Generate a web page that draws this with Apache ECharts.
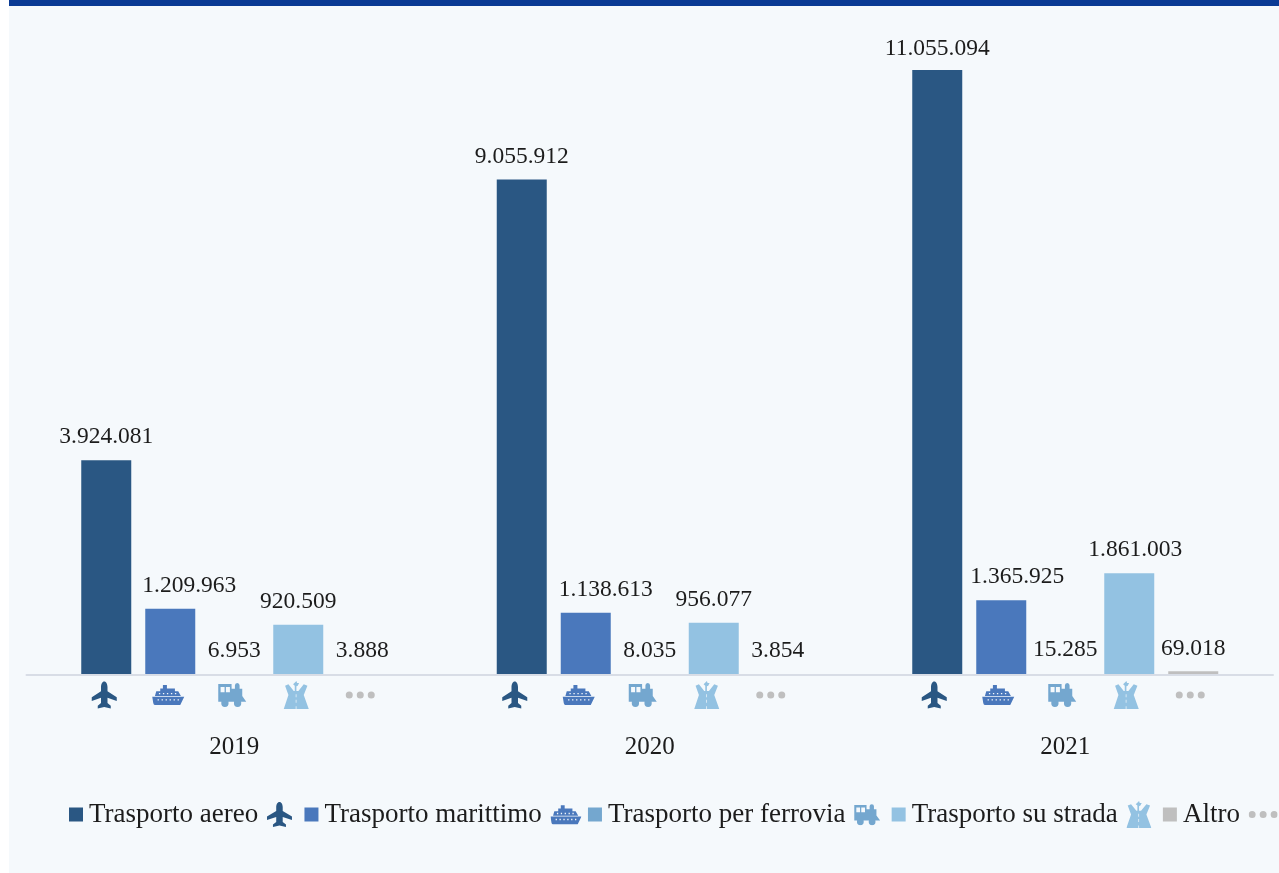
<!DOCTYPE html>
<html><head><meta charset="utf-8">
<style>
html,body{margin:0;padding:0;background:#fff;width:1279px;height:873px;overflow:hidden}
#panel{position:absolute;left:9px;top:0;width:1270px;height:873px;background:#f5f9fc}
#bar{position:absolute;left:9px;top:0;width:1270px;height:6px;background:#0a3a94}
#main{position:absolute;left:0;top:0;width:1279px;height:873px}
</style>
<script src="https://cdn.jsdelivr.net/npm/echarts@6/dist/echarts.min.js"></script>
</head><body>
<div id="panel"></div><div id="bar"></div><div id="main"></div>
<script>
const years = ['2019','2020','2021'];
const names = ['Trasporto aereo','Trasporto marittimo','Trasporto per ferrovia','Trasporto su strada','Altro'];
const aereo = [3924081, 9055912, 11055094];
const marittimo = [1209963, 1138613, 1365925];
const ferrovia = [6953, 8035, 15285];
const strada = [920509, 956077, 1861003];
const altro = [3888, 3854, 69018];
const values = [aereo, marittimo, ferrovia, strada, altro];
const colors = ['#2a5783','#4a78bc','#74a7cf','#93c2e2','#bfbfbf'];
const textColor = '#1c1c1c';
const FONT = '"Liberation Serif", serif';
const iconNudge = [-2,-7,-3];
const labelNudge = [[0,0,0],[19,20,16],[0,0,0],[0,0,6],[0,0,0]];
const labelLift = [[0,0,2],[0,0,0],[-1,-1,-1],[0,0,0],[-1,-1,1]];
const legendTailFont = [26,2,22,22,2];

const icons = [
 {w:100,h:100,size:[25,27],d:'M50 0C58 0 63 10 63 20V36L100 58V72L63 60V80L76 90V100L50 94L24 100V90L37 80V60L0 72V58L37 36V20C37 10 42 0 50 0Z'},
 {w:96,h:60,size:[32,20],d:'M0 36H96L84 60H8Q4 60 3 54ZM16 43v4h4v-4zM28 43v4h4v-4zM40 43v4h4v-4zM52 43v4h4v-4zM64 43v4h4v-4zM76 43v4h4v-4zM8 34L12 20H24V12H32V2H44V12H68V20H78L86 34ZM20 25v4h4v-4zM32 25v4h4v-4zM44 25v4h4v-4zM56 25v4h4v-4zM68 25v4h4v-4z'},
 {w:84,h:70,size:[28,24],d:'M0 5H40V18H50V9A7 7 0 1 1 64 9V18H72V38L84 54H0ZM7 13v15h12v-15zM23 13v15h12v-15zM9 58a11 11 0 1 1 22 0a11 11 0 1 1 -22 0zM47 58a11 11 0 1 1 22 0a11 11 0 1 1 -22 0z'},
 {w:75,h:84,size:[25,28],d:'M0 84L14 42L4 14L14 10L30 30H33V14L28 10L38 0L40 6L46 6L42 14L38 16V30H44L60 10L71 14L60 42L75 84H38V76H36V84ZM36 40v9h2v-9zM36 56v9h2v-9z'},
 {w:29,h:7,size:[29,7],d:'M0 3.5a3.5 3.5 0 1 1 7 0a3.5 3.5 0 1 1 -7 0zM11 3.5a3.5 3.5 0 1 1 7 0a3.5 3.5 0 1 1 -7 0zM22 3.5a3.5 3.5 0 1 1 7 0a3.5 3.5 0 1 1 -7 0z'}
];
const legendIcon = [[25,25],[31,20],[26,22],[25,27],[29,7]];
const svgUri = (ic,c)=>'data:image/svg+xml,'+encodeURIComponent(
 `<svg xmlns="http://www.w3.org/2000/svg" width="${ic.w*2}" height="${ic.h*2}" viewBox="0 0 ${ic.w} ${ic.h}"><path fill="${c}" d="${ic.d}"/></svg>`);
const fmt = v => String(v).replace(/\B(?=(\d{3})+$)/g,'.');

const rich = {t:{fontFamily:FONT,fontSize:27,color:textColor,padding:[0,2,0,1]}};
icons.forEach((ic,i)=>{
 rich['i'+i]={width:legendIcon[i][0],height:legendIcon[i][1],backgroundColor:{image:svgUri(ic,colors[i])}};
 rich['g'+i]={fontFamily:FONT,fontSize:legendTailFont[i],color:'transparent'};
});

const series = [];
names.forEach((n,i)=>{
 series.push({name:n,type:'bar',xAxisIndex:0,yAxisIndex:0,barWidth:50,barGap:'28%',
  itemStyle:{color:colors[i]},
  data:values[i].map((v,k)=>({value:v,label:{offset:[labelNudge[i][k],labelLift[i][k]]}})),
  label:{show:true,position:'top',distance:11,formatter:p=>fmt(p.value),fontFamily:FONT,fontSize:23.5,color:textColor}});
});
names.forEach((n,i)=>{
 series.push({name:'icona '+n,type:'pictorialBar',xAxisIndex:1,yAxisIndex:1,barWidth:50,barGap:'28%',silent:true,
  symbol:'path://'+icons[i].d,symbolSize:icons[i].size,symbolPosition:'center',
  itemStyle:{color:colors[i]},label:{show:false},
  data:years.map((y,k)=>({value:1,symbolOffset:[iconNudge[k],0]}))});
});

const chart = echarts.init(document.getElementById('main'));
chart.setOption({
 animation:false,
 backgroundColor:'transparent',
 legend:{left:64,top:796,width:1500,itemWidth:14,itemHeight:14,itemGap:6,icon:'rect',selectedMode:false,
  data:names,
  formatter:n=>{const i=names.indexOf(n);return '{t|'+n+'} {i'+i+'|}{g'+i+'|\u00a0}';},
  textStyle:{rich,fontFamily:FONT,fontSize:27,color:textColor}},
 grid:[{left:26.5,width:1246.5,top:18.3,height:656.7},{left:26.5,width:1246.5,top:680,height:30}],
 xAxis:[
  {type:'category',gridIndex:0,data:years,axisTick:{show:false},z:5,
   axisLine:{lineStyle:{color:'#d8dde6',width:2}},
   axisLabel:{margin:60,fontFamily:FONT,fontSize:25,color:textColor}},
  {type:'category',gridIndex:1,data:years,show:false}
 ],
 yAxis:[
  {type:'value',gridIndex:0,min:0,max:12000000,show:false,splitLine:{show:false}},
  {type:'value',gridIndex:1,min:0,max:1,show:false,splitLine:{show:false}}
 ],
 series
});
</script>
</body></html>
